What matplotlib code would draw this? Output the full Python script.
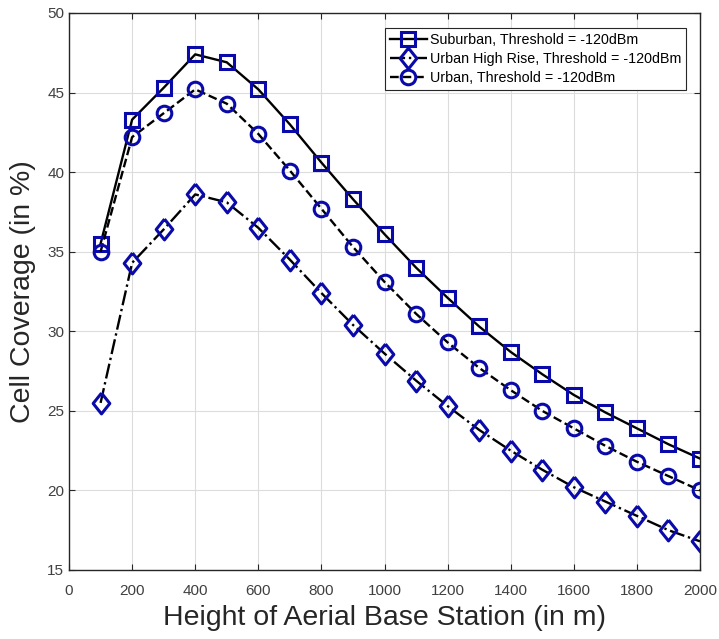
import matplotlib.pyplot as plt

plt.rcParams['font.family'] = ['Liberation Sans', 'DejaVu Sans']

# Heights of the aerial base station (m)
heights = [100, 200, 300, 400, 500, 600, 700, 800, 900, 1000,
           1100, 1200, 1300, 1400, 1500, 1600, 1700, 1800, 1900, 2000]

# Cell coverage (%)
suburban = [35.5, 43.3, 45.3, 47.4, 46.9, 45.2, 43.0, 40.6, 38.3, 36.1,
            34.0, 32.1, 30.3, 28.7, 27.3, 26.0, 24.9, 23.9, 22.9, 22.0]
high_rise = [25.5, 34.3, 36.4, 38.6, 38.1, 36.5, 34.5, 32.4, 30.4, 28.6,
             26.9, 25.3, 23.8, 22.5, 21.3, 20.2, 19.3, 18.4, 17.5, 16.8]
urban = [35.0, 42.2, 43.7, 45.2, 44.3, 42.4, 40.1, 37.7, 35.3, 33.1,
         31.1, 29.3, 27.7, 26.3, 25.0, 23.9, 22.8, 21.8, 20.9, 20.0]

xticks = list(range(0, 2001, 200))
yticks = list(range(15, 51, 5))

fig = plt.figure(figsize=(7.19, 6.39), dpi=100)
ax = fig.add_axes([0.096, 0.108, 0.8776, 0.8717])

blue = '#0A0AAA'
tall_diamond = [(0, 1), (0.8, 0), (0, -1), (-0.8, 0), (0, 1)]
style = dict(color='black', linewidth=1.7, markerfacecolor='none',
             markeredgecolor=blue, markeredgewidth=2.2)
ax.plot(heights, suburban, '-', marker='s', markersize=9.5,
        label='Suburban, Threshold = -120dBm', **style)
ax.plot(heights, high_rise, '-.', marker=tall_diamond, markersize=15,
        label='Urban High Rise, Threshold = -120dBm', **style)
ax.plot(heights, urban, '--', marker='o', markersize=10.5,
        label='Urban, Threshold = -120dBm', **style)

ax.set_xlim(0, 2000)
ax.set_ylim(15, 50)
ax.set_xticks(xticks)
ax.set_yticks(yticks)
ax.tick_params(direction='in', labelsize=11, colors='#262626', labelcolor='#404040',
               top=True, right=True, length=4)
ax.tick_params(axis='x', pad=10)
ax.grid(True, color='#dcdcdc', linewidth=0.8)
for s in ax.spines.values():
    s.set_color('#262626')
    s.set_linewidth(1.0)

ax.set_xlabel('Height of Aerial Base Station (in m)', fontsize=20.5, color='#262626', labelpad=5)
ax.set_ylabel('Cell Coverage (in %)', fontsize=20.5, color='#262626', labelpad=8)

leg = ax.legend(loc='upper right', bbox_to_anchor=(0.978, 0.973), borderaxespad=0,
                fontsize=10.3, fancybox=False, framealpha=1, edgecolor='#262626',
                handlelength=2.6, handletextpad=0.2, borderpad=0.35, labelspacing=0.35)
leg.get_frame().set_linewidth(0.8)

fig.savefig('out.png', dpi=100)
